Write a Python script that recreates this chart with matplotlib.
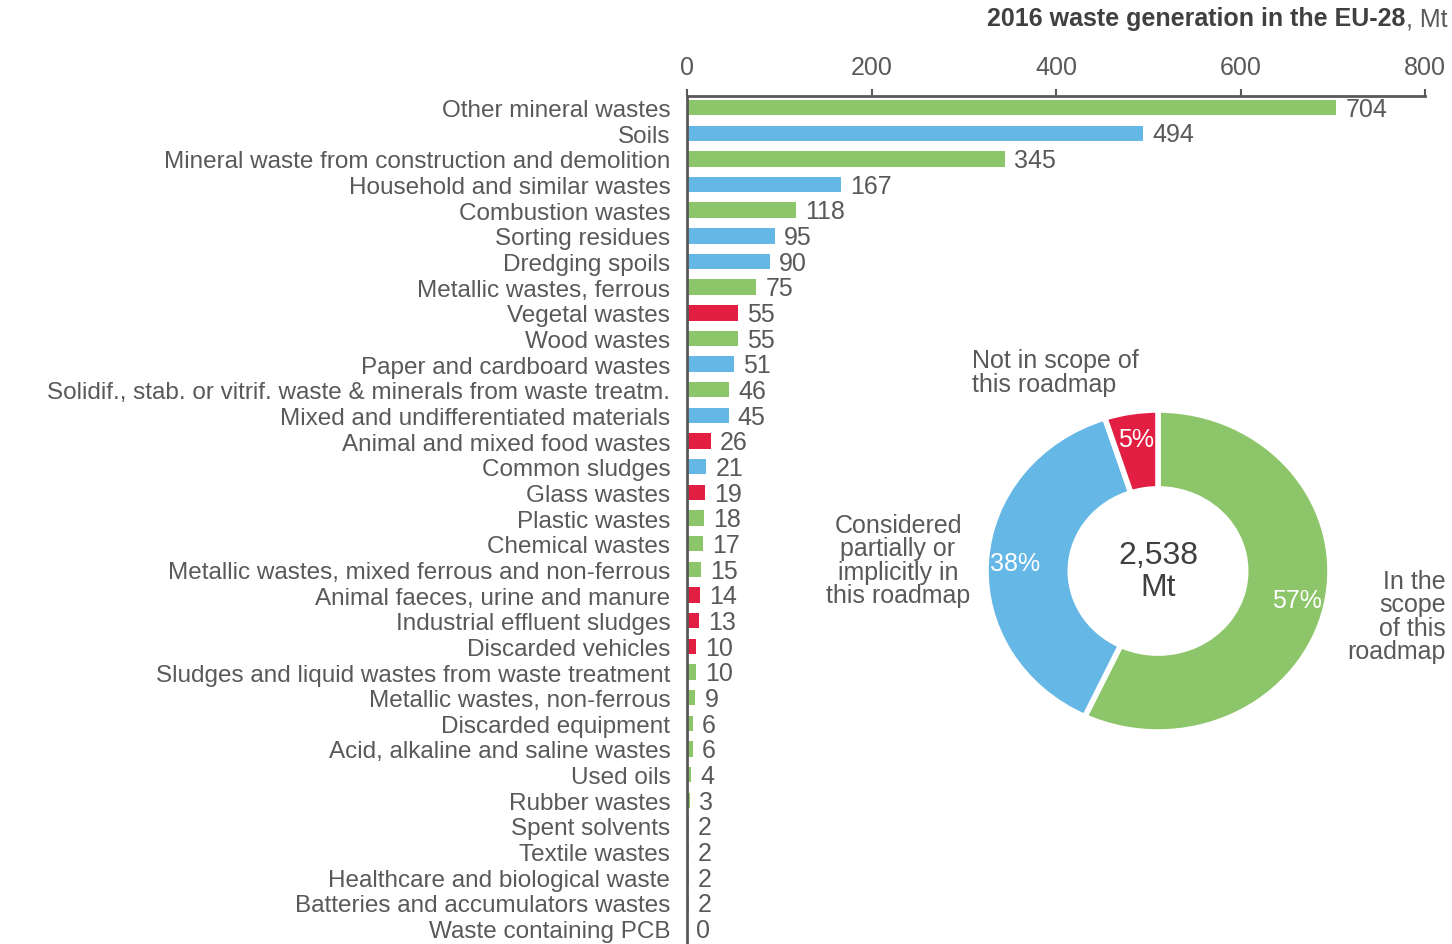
import matplotlib
matplotlib.use("Agg")
import matplotlib.pyplot as plt
import numpy as np

plt.rcParams['font.family'] = ['Liberation Sans', 'DejaVu Sans']

categories = [
    "Other mineral wastes", "Soils", "Mineral waste from construction and demolition",
    "Household and similar wastes", "Combustion wastes", "Sorting residues",
    "Dredging spoils", "Metallic wastes, ferrous", "Vegetal wastes", "Wood wastes",
    "Paper and cardboard wastes",
    "Solidif., stab. or vitrif. waste & minerals from waste treatm.",
    "Mixed and undifferentiated materials", "Animal and mixed food wastes",
    "Common sludges", "Glass wastes", "Plastic wastes", "Chemical wastes",
    "Metallic wastes, mixed ferrous and non-ferrous",
    "Animal faeces, urine and manure", "Industrial effluent sludges",
    "Discarded vehicles", "Sludges and liquid wastes from waste treatment",
    "Metallic wastes, non-ferrous", "Discarded equipment",
    "Acid, alkaline and saline wastes", "Used oils", "Rubber wastes",
    "Spent solvents", "Textile wastes", "Healthcare and biological waste",
    "Batteries and accumulators wastes", "Waste containing PCB",
]
values = [704, 494, 345, 167, 118, 95, 90, 75, 55, 55, 51, 46, 45, 26, 21, 19,
          18, 17, 15, 14, 13, 10, 10, 9, 6, 6, 4, 3, 2, 2, 2, 2, 0]
# g = in scope, b = partially, r = not in scope
scope = ['g', 'b', 'g', 'b', 'g', 'b', 'b', 'g', 'r', 'g', 'b', 'g', 'b', 'r',
         'b', 'r', 'g', 'g', 'g', 'r', 'r', 'r', 'g', 'g', 'g', 'g', 'g', 'g',
         'g', 'g', 'g', 'g', 'g']

donut_shares = [57, 38, 5]
donut_labels = ["57%", "38%", "5%"]
total_label = "2,538\nMt"

GREEN = '#8dc66a'
BLUE = '#65b7e6'
RED = '#e21f43'
GREY = '#595959'
DARK = '#404040'
FS = 18
col_map = {'g': GREEN, 'b': BLUE, 'r': RED}

W, H = 1452, 945
fig = plt.figure(figsize=(W / 100, H / 100), dpi=100)

# bar chart
ax = fig.add_axes([687 / W, 0, (1425 - 687) / W, 1 - 97 / H])
y = np.arange(len(values))
ax.barh(y, values, height=0.6, color=[col_map[s] for s in scope], zorder=2)
ax.set_xlim(0, 800)
ax.set_ylim(len(values) - 1 + 0.6, -0.45)
ax.set_yticks(y)
ax.set_yticklabels(categories, fontsize=17.5, color=GREY)
ax.tick_params(axis='y', length=0, pad=12)
ax.xaxis.tick_top()
ax.set_xticks([0, 200, 400, 600, 800])
ax.tick_params(axis='x', length=5, width=1.5, color=GREY, labelsize=FS,
               labelcolor=GREY, pad=7)
for s in ('right', 'bottom'):
    ax.spines[s].set_visible(False)
for s in ('top', 'left'):
    ax.spines[s].set_color(GREY)
    ax.spines[s].set_linewidth(2)
    ax.spines[s].set_zorder(3)
for yi, v in zip(y, values):
    ax.text(v + 10, yi + 0.05, f"{v}", va='center', ha='left', fontsize=FS,
            color=GREY)

# title
mt = fig.text(1447 / W, 1 - 19 / H, ", Mt", ha='right', va='center',
              fontsize=FS, color=GREY)
fig.canvas.draw()
ax.annotate("2016 waste generation in the EU-28", xy=(0, 0), xycoords=mt,
            ha='right', va='bottom', fontsize=FS, fontweight='bold', color=DARK,
            annotation_clip=False)

# donut
cx, cy, rx, ry = 1158, 572, 172, 161
pax = fig.add_axes([(cx - rx) / W, 1 - (cy + ry) / H, 2 * rx / W, 2 * ry / H])
wedges, _ = pax.pie(donut_shares, colors=[GREEN, BLUE, RED], startangle=90,
                    counterclock=False, radius=1,
                    wedgeprops=dict(width=0.49, edgecolor='white', linewidth=4))
pax.set_aspect('auto')
pax.set_xlim(-1, 1)
pax.set_ylim(-1, 1)
pax.axis('off')
for w, lab in zip(wedges, donut_labels):
    ang = np.deg2rad((w.theta1 + w.theta2) / 2)
    r = 0.83
    pax.text(r * np.cos(ang), r * np.sin(ang), lab, ha='center', va='center',
             fontsize=FS, color='white')
pax.text(0, 0.0, total_label, ha='center', va='center', fontsize=23,
         color=DARK, linespacing=1.05)

fig.text(972 / W, 1 - 373 / H, "Not in scope of\nthis roadmap", ha='left',
         va='center', fontsize=FS, color=GREY, linespacing=0.95)
fig.text(898 / W, 1 - 561 / H, "Considered\npartially or\nimplicitly in\nthis roadmap",
         ha='center', va='center', fontsize=FS, color=GREY, linespacing=0.95)
fig.text(1446 / W, 1 - 617 / H, "In the\nscope\nof this\nroadmap",
         ha='right', va='center', fontsize=FS, color=GREY, linespacing=0.95)

fig.savefig("out.png", dpi=100)
